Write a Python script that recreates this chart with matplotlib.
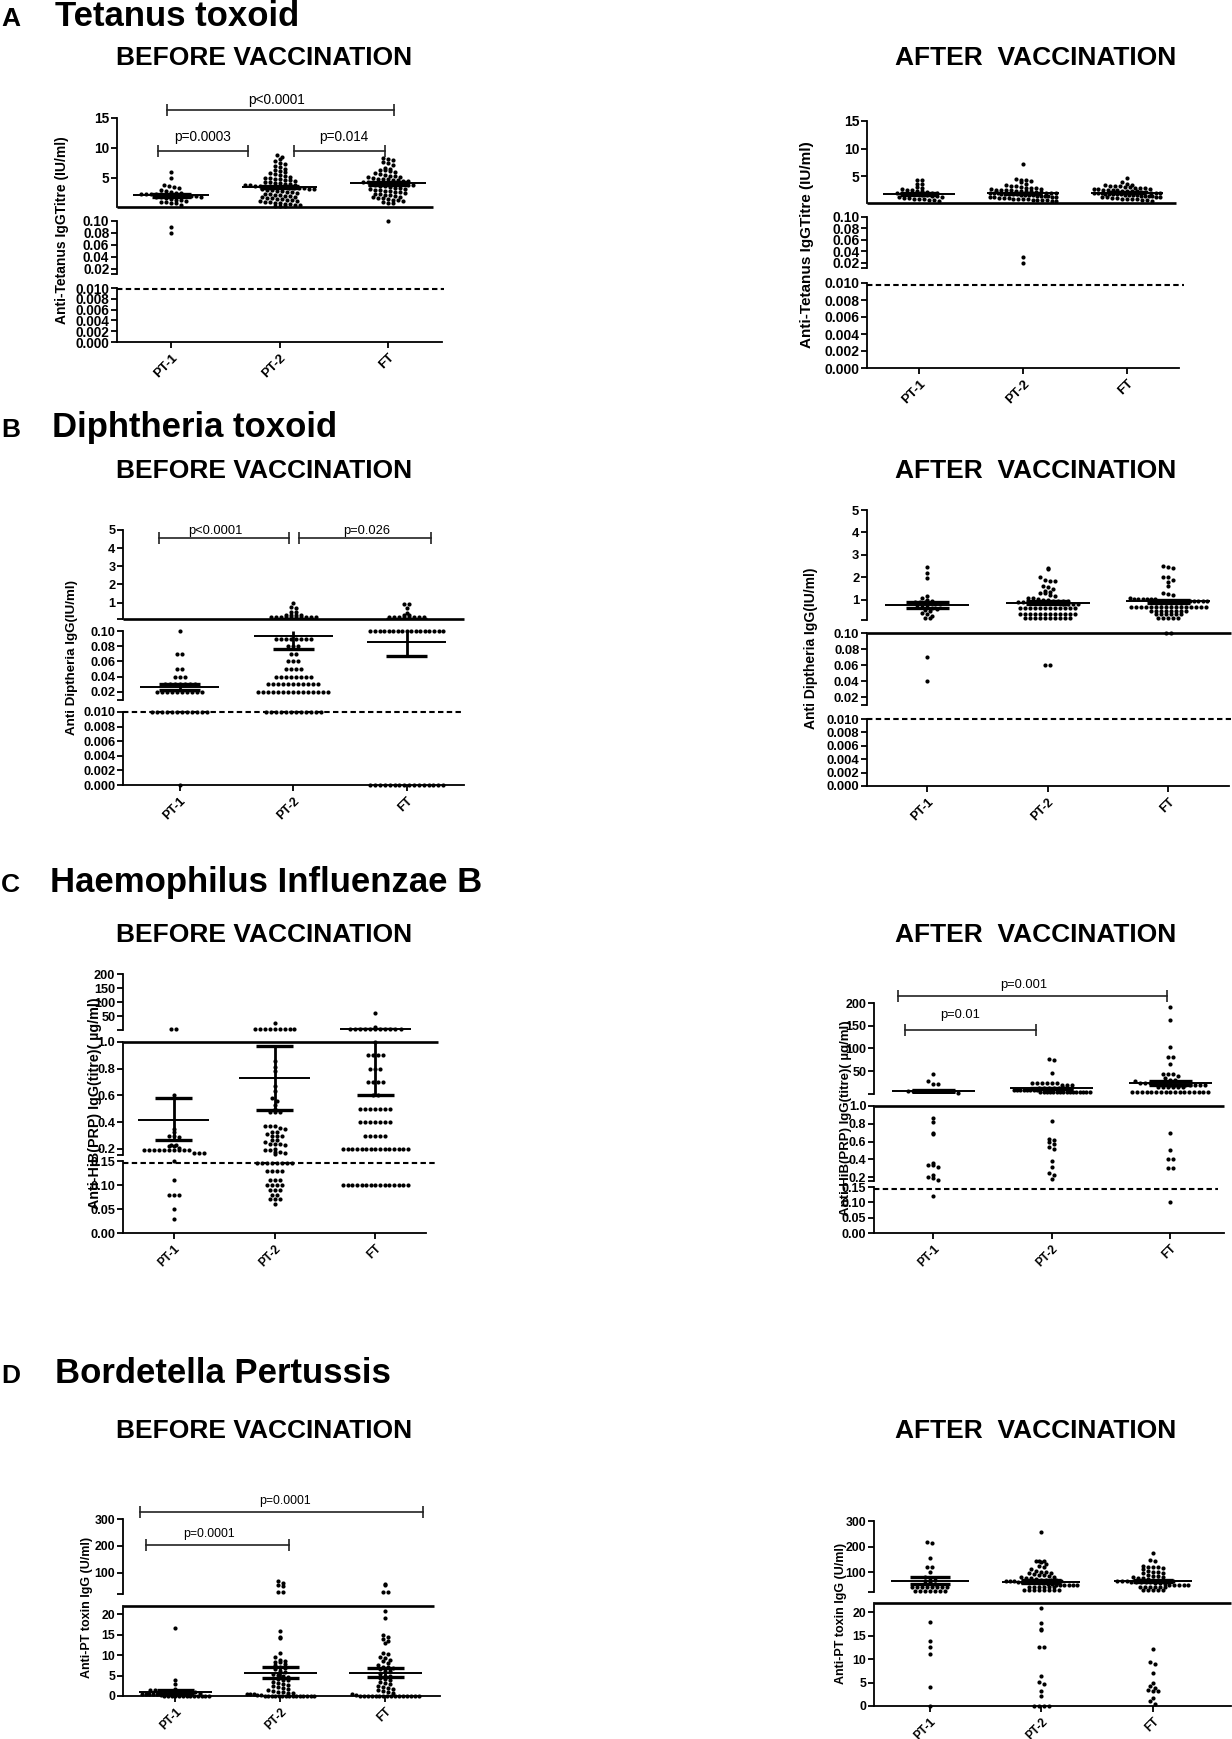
import numpy as np
import matplotlib
matplotlib.use('Agg')
import matplotlib.pyplot as plt

plt.rcParams['font.family'] = ['Liberation Sans', 'DejaVu Sans']

groups = ['PT-1', 'PT-2', 'FT']

# ---------------- A: Tetanus toxoid (IU/ml) ----------------
tet_pre_pt1 = [6.0, 5.0, 3.8, 3.6, 3.5, 3.4, 3.0, 2.8, 2.6, 2.5, 2.5, 2.4, 2.4, 2.3, 2.3, 2.3,
               2.2, 2.2, 2.2, 2.1, 2.1, 2.0, 2.0, 1.9, 1.8, 1.8, 1.6, 1.5, 1.4, 1.3, 1.2, 1.0,
               1.0, 0.9, 0.8, 0.5, 0.09, 0.08]
tet_pre_pt2 = [8.8, 8.5, 8.2, 7.8, 7.5, 7.3, 7.0, 6.8, 6.5, 6.3, 6.2, 6.0, 5.8, 5.6, 5.5, 5.4,
               5.2, 5.0, 5.0, 4.9, 4.8, 4.7, 4.6, 4.5, 4.4, 4.3, 4.2, 4.1, 4.0, 4.0, 3.9, 3.8,
               3.8, 3.7, 3.7, 3.6, 3.6, 3.5, 3.5, 3.5, 3.4, 3.4, 3.3, 3.3, 3.2, 3.2, 3.1, 3.0,
               3.0, 2.9, 2.8, 2.7, 2.6, 2.5, 2.4, 2.3, 2.2, 2.1, 2.0, 2.0, 1.9, 1.8, 1.7, 1.6,
               1.5, 1.5, 1.4, 1.3, 1.2, 1.1, 1.0, 1.0, 0.9, 0.8, 0.7, 0.6, 0.5, 0.5, 0.4, 0.3, 0.3]
tet_pre_ft = [8.3, 8.2, 8.0, 7.6, 7.5, 7.2, 6.6, 6.5, 6.4, 6.3, 6.2, 6.0, 5.8, 5.6, 5.5, 5.4,
              5.3, 5.2, 5.1, 5.0, 4.9, 4.8, 4.8, 4.7, 4.6, 4.5, 4.5, 4.4, 4.3, 4.3, 4.2, 4.2,
              4.1, 4.1, 4.0, 4.0, 3.9, 3.9, 3.8, 3.8, 3.7, 3.6, 3.5, 3.4, 3.3, 3.2, 3.1, 3.0,
              3.0, 2.9, 2.8, 2.7, 2.6, 2.5, 2.4, 2.3, 2.2, 2.1, 2.0, 1.9, 1.8, 1.7, 1.6, 1.5,
              1.4, 1.3, 1.2, 1.0, 0.9, 0.8, 0.10]
tet_pre_mean = [2.1, 3.5, 4.1]
tet_pre_lo = [1.9, 3.3, 3.9]
tet_pre_hi = [2.3, 3.7, 4.3]

tet_post_pt1 = [4.3, 4.2, 3.6, 3.5, 3.0, 2.8, 2.6, 2.5, 2.4, 2.3, 2.2, 2.1, 2.0, 2.0, 1.9, 1.9,
                1.8, 1.8, 1.7, 1.6, 1.5, 1.4, 1.3, 1.2, 1.1, 1.0, 1.0, 0.9, 0.8, 0.8, 0.7, 0.6, 0.5]
tet_post_pt2 = [7.2, 4.5, 4.3, 4.2, 4.1, 3.9, 3.6, 3.3, 3.2, 3.1, 3.0, 2.9, 2.8, 2.8, 2.7, 2.6,
                2.5, 2.5, 2.4, 2.4, 2.3, 2.3, 2.2, 2.2, 2.1, 2.1, 2.0, 2.0, 2.0, 1.9, 1.9, 1.9,
                1.8, 1.8, 1.8, 1.7, 1.7, 1.6, 1.6, 1.5, 1.5, 1.4, 1.4, 1.3, 1.3, 1.2, 1.2, 1.1,
                1.1, 1.0, 1.0, 1.0, 0.9, 0.9, 0.8, 0.8, 0.7, 0.7, 0.6, 0.6, 0.5, 0.5, 0.03, 0.02]
tet_post_ft = [4.6, 4.0, 3.6, 3.4, 3.3, 3.2, 3.1, 3.1, 3.0, 3.0, 2.9, 2.8, 2.8, 2.7, 2.6, 2.6,
               2.5, 2.5, 2.4, 2.4, 2.3, 2.3, 2.2, 2.2, 2.1, 2.1, 2.0, 2.0, 2.0, 1.9, 1.9, 1.9,
               1.8, 1.8, 1.8, 1.7, 1.7, 1.6, 1.6, 1.5, 1.5, 1.4, 1.4, 1.3, 1.3, 1.2, 1.2, 1.1,
               1.1, 1.0, 1.0, 0.9, 0.9, 0.8, 0.8, 0.7, 0.6, 0.5]
tet_post_mean = [1.8, 1.9, 2.0]
tet_post_lo = [1.6, 1.8, 1.9]
tet_post_hi = [2.0, 2.0, 2.1]

# ---------------- B: Diphtheria toxoid (IU/ml) ----------------
dip_pre_pt1 = [0.10, 0.07, 0.07, 0.05, 0.05, 0.04, 0.04, 0.04,
               0.03, 0.03, 0.03, 0.03, 0.03, 0.03, 0.03,
               0.02, 0.02, 0.02, 0.02, 0.02, 0.02, 0.02, 0.02, 0.02, 0.02,
               0.01, 0.01, 0.01, 0.01, 0.01, 0.01, 0.01, 0.01, 0.01, 0.01, 0.01, 0.01, 0.0]
dip_pre_pt2 = [1.0, 0.75, 0.7, 0.5, 0.5, 0.3, 0.3, 0.3, 0.3,
               0.2, 0.2, 0.2, 0.2, 0.2, 0.2, 0.2, 0.2, 0.2, 0.2,
               0.09, 0.09, 0.09, 0.09, 0.09, 0.09, 0.09, 0.09, 0.08, 0.08, 0.08, 0.07, 0.07,
               0.06, 0.06, 0.06, 0.05, 0.05, 0.05, 0.05,
               0.04, 0.04, 0.04, 0.04, 0.04, 0.04, 0.04, 0.04,
               0.03, 0.03, 0.03, 0.03, 0.03, 0.03, 0.03, 0.03, 0.03, 0.03, 0.03,
               0.02, 0.02, 0.02, 0.02, 0.02, 0.02, 0.02, 0.02, 0.02, 0.02, 0.02, 0.02, 0.02, 0.02, 0.02,
               0.01, 0.01, 0.01, 0.01, 0.01, 0.01, 0.01, 0.01, 0.01, 0.01, 0.01, 0.01]
dip_pre_ft = [0.9, 0.9, 0.7, 0.45, 0.3, 0.3, 0.2, 0.2, 0.2, 0.2, 0.2, 0.2, 0.2, 0.2,
              0.1, 0.1, 0.1, 0.1, 0.1, 0.1, 0.1, 0.1, 0.1, 0.1, 0.1, 0.1, 0.1, 0.1, 0.1, 0.1, 0.1,
              0.0, 0.0, 0.0, 0.0, 0.0, 0.0, 0.0, 0.0, 0.0, 0.0, 0.0, 0.0, 0.0, 0.0, 0.0, 0.0]
dip_pre_mean = [0.026, 0.094, 0.085]
dip_pre_lo = [0.022, 0.076, 0.067]
dip_pre_hi = [0.030, 0.112, 0.103]

dip_post_pt1 = [2.45, 2.2, 1.95, 1.15, 1.1, 1.0, 0.95, 0.9, 0.9, 0.9, 0.85, 0.8, 0.8, 0.75,
                0.7, 0.7, 0.65, 0.6, 0.55, 0.5, 0.4, 0.35, 0.3, 0.2, 0.2, 0.07, 0.04]
dip_post_pt2 = [2.4, 2.35, 2.0, 1.9, 1.85, 1.85, 1.6, 1.55, 1.5, 1.4, 1.35, 1.3, 1.3, 1.2, 1.15,
                1.1, 1.1, 1.05, 1.0, 1.0, 0.95, 0.95, 0.95, 0.95,
                0.88, 0.88, 0.88, 0.88, 0.88, 0.88, 0.88, 0.88, 0.88, 0.8, 0.8, 0.8, 0.8,
                0.62, 0.62, 0.62, 0.62, 0.62, 0.62, 0.62, 0.62, 0.62, 0.62, 0.62, 0.62,
                0.35, 0.35, 0.35, 0.35, 0.35, 0.35, 0.35, 0.35, 0.35, 0.35, 0.35, 0.35,
                0.2, 0.2, 0.2, 0.2, 0.2, 0.2, 0.2, 0.2, 0.2, 0.2, 0.06, 0.06]
dip_post_ft = [2.5, 2.45, 2.4, 2.0, 2.0, 1.9, 1.8, 1.6, 1.3, 1.25, 1.2, 1.1,
               1.05, 1.05, 1.05, 1.05, 1.05, 1.05,
               0.95, 0.95, 0.95, 0.95, 0.95, 0.95, 0.95, 0.95, 0.95, 0.95, 0.95, 0.95,
               0.85, 0.85, 0.85, 0.85, 0.85, 0.85,
               0.7, 0.7, 0.7, 0.7, 0.7, 0.7, 0.7, 0.7, 0.7, 0.7, 0.7, 0.7, 0.7, 0.7, 0.7, 0.7,
               0.48, 0.48, 0.48, 0.48, 0.48, 0.48, 0.48, 0.48,
               0.38, 0.38, 0.38, 0.38, 0.38, 0.38, 0.21, 0.21, 0.21, 0.21, 0.21, 0.1, 0.1]
dip_post_mean = [0.78, 0.87, 0.93]
dip_post_lo = [0.63, 0.80, 0.87]
dip_post_hi = [0.92, 0.94, 0.99]

# ---------------- C: Haemophilus influenzae B (ug/ml) ----------------
hib_pre_pt1 = [3.0, 3.0, 0.6, 0.35, 0.33, 0.3, 0.3, 0.29, 0.23, 0.23, 0.22, 0.22, 0.21,
               0.19, 0.19, 0.19, 0.19, 0.19, 0.19, 0.19, 0.19, 0.19, 0.19, 0.17, 0.17, 0.17,
               0.15, 0.11, 0.08, 0.08, 0.08, 0.05, 0.03]
hib_pre_pt2 = [25.0, 3.0, 3.0, 3.0, 3.0, 3.0, 3.0, 3.0, 3.0, 3.0,
               0.86, 0.81, 0.78, 0.67, 0.63, 0.58, 0.56, 0.53, 0.5, 0.48, 0.48, 0.48,
               0.37, 0.37, 0.37, 0.36, 0.35, 0.33, 0.33, 0.31, 0.3, 0.3, 0.3, 0.27, 0.27,
               0.25, 0.24, 0.24, 0.24, 0.23, 0.2, 0.19, 0.19, 0.18, 0.18, 0.17, 0.16,
               0.145, 0.145, 0.145, 0.145, 0.145, 0.145, 0.145, 0.145,
               0.13, 0.13, 0.13, 0.13, 0.11, 0.11, 0.11, 0.1, 0.1, 0.1, 0.1,
               0.09, 0.09, 0.09, 0.08, 0.08, 0.07, 0.07, 0.07, 0.06]
hib_pre_ft = [62.0, 12.0, 3.0, 3.0, 3.0, 3.0, 3.0, 3.0, 3.0, 3.0, 3.0, 3.0, 3.0,
              1.0, 0.9, 0.9, 0.9, 0.9, 0.8, 0.8, 0.8, 0.7, 0.7, 0.7, 0.7, 0.6, 0.6,
              0.5, 0.5, 0.5, 0.5, 0.5, 0.5, 0.5, 0.4, 0.4, 0.4, 0.4, 0.4, 0.4, 0.4,
              0.3, 0.3, 0.3, 0.3, 0.3,
              0.2, 0.2, 0.2, 0.2, 0.2, 0.2, 0.2, 0.2, 0.2, 0.2, 0.2, 0.2, 0.2, 0.2, 0.2,
              0.1, 0.1, 0.1, 0.1, 0.1, 0.1, 0.1, 0.1, 0.1, 0.1, 0.1, 0.1, 0.1, 0.1, 0.1]
hib_pre_mean = [0.42, 0.73, 3.0]
hib_pre_lo = [0.27, 0.49, 0.60]
hib_pre_hi = [0.58, 0.97, 5.4]

hib_post_pt1 = [44.0, 28.0, 22.0, 22.0, 7.0, 7.0, 7.0, 7.0, 7.0, 7.0, 7.0, 7.0, 7.0, 7.0, 3.0,
                0.86, 0.82, 0.70, 0.69, 0.36, 0.33, 0.33, 0.31, 0.22, 0.20, 0.19, 0.17, 0.12]
hib_post_pt2 = [76.0, 74.0, 45.0, 24.0, 24.0, 24.0, 24.0, 24.0, 24.0, 20.0, 20.0, 20.0,
                13.0, 13.0, 13.0, 13.0, 13.0, 13.0, 8.0, 8.0, 8.0, 8.0, 8.0, 8.0, 8.0, 8.0,
                5.0, 5.0, 5.0, 5.0, 5.0, 5.0, 5.0, 5.0, 5.0, 5.0, 5.0, 5.0, 5.0, 5.0, 5.0, 5.0,
                0.83, 0.63, 0.62, 0.60, 0.57, 0.54, 0.52, 0.38, 0.31, 0.24, 0.22, 0.18]
hib_post_ft = [192.0, 162.0, 104.0, 82.0, 82.0, 66.0, 43.0, 43.0, 43.0, 40.0, 35.0, 30.0, 30.0,
               28.0, 25.0, 25.0, 25.0, 25.0, 25.0, 25.0, 20.0, 20.0, 20.0, 20.0, 20.0, 20.0,
               20.0, 20.0, 15.0, 15.0, 15.0, 15.0, 15.0, 15.0,
               5.0, 5.0, 5.0, 5.0, 5.0, 5.0, 5.0, 5.0, 5.0, 5.0, 5.0, 5.0, 5.0, 5.0, 5.0, 5.0, 5.0,
               0.7, 0.5, 0.4, 0.4, 0.3, 0.3, 0.1]
hib_post_mean = [7.0, 12.0, 24.0]
hib_post_lo = [5.0, 10.0, 19.0]
hib_post_hi = [9.0, 14.0, 29.0]

# ---------------- D: Bordetella pertussis (U/ml) ----------------
pert_pre_pt1 = [16.7, 3.9, 2.9, 1.8, 1.5, 1.5, 1.3, 1.2, 1.0, 1.0, 1.0, 1.0, 1.0, 1.0,
                0.8, 0.6, 0.5, 0.5, 0.5, 0.5, 0.3,
                0, 0, 0, 0, 0, 0, 0, 0, 0, 0, 0, 0, 0]
pert_pre_pt2 = [70, 62, 55, 52, 30, 28, 15.8, 14.5, 14.2, 10.5, 9.5, 8.8, 8.6, 8.3, 8.2, 7.8,
                7.5, 7.2, 6.8, 6.5, 6.2, 5.8, 5.5, 5.2, 5.0, 4.7, 4.5, 4.2, 4.0, 3.8, 3.5, 3.2,
                3.0, 2.8, 2.5, 2.2, 2.0, 1.8, 1.5, 1.2, 1.0, 1.0, 0.8, 0.8, 0.6, 0.5, 0.5, 0.3,
                0.2, 0, 0, 0, 0, 0, 0, 0, 0, 0, 0, 0, 0, 0, 0, 0]
pert_pre_ft = [60, 55, 30, 28, 20.8, 19.0, 15.0, 14.5, 14.0, 13.5, 13.0, 10.5, 10.2, 9.5, 9.2,
               8.8, 8.5, 8.0, 7.5, 7.2, 7.0, 6.8, 6.5, 6.2, 6.0, 5.5, 5.0, 4.8, 4.5, 4.2, 4.0,
               3.5, 3.2, 3.0, 2.5, 2.2, 2.0, 1.8, 1.5, 1.2, 1.0, 0.8, 0.5, 0.3,
               0, 0, 0, 0, 0, 0, 0, 0, 0, 0, 0, 0, 0, 0, 0, 0]
pert_pre_mean = [1.0, 5.7, 5.7]
pert_pre_lo = [0.6, 4.4, 4.6]
pert_pre_hi = [1.4, 7.0, 6.8]

pert_post_pt1 = [219, 215, 157, 121, 119, 101, 80, 75, 70, 65, 60, 55,
                 40, 40, 40, 40, 40, 40, 40, 40, 25, 25, 25, 25, 25, 25, 25,
                 17.9, 13.9, 12.5, 11.2, 4.1, 0]
pert_post_pt2 = [255, 145, 145, 142, 138, 130, 125, 118, 112, 105, 100, 100, 98, 95, 92, 90,
                 88, 85, 82, 80, 78, 75, 72, 70, 70, 68, 68, 66, 65, 65, 64, 63, 62, 61, 60,
                 60, 58, 56, 55, 52, 50, 50, 50, 50, 50, 50, 40, 40, 40, 40, 40, 40,
                 28, 28, 28, 28, 28, 28, 28, 28,
                 21, 17.7, 16.5, 16.3, 12.7, 12.5, 6.5, 5.2, 4.7, 3.3, 2.1, 0, 0, 0, 0]
pert_post_ft = [175, 148, 145, 122, 120, 120, 118, 115, 112, 105, 100, 100, 98, 95, 90, 85,
                85, 82, 80, 78, 75, 72, 70, 70, 68, 67, 66, 65, 65, 64, 63, 62, 61, 60, 60,
                58, 56, 55, 50, 50, 50, 50, 50, 40, 40, 40, 40, 40, 40, 28, 28, 28, 28, 28,
                12.2, 9.3, 9.0, 7.0, 5.0, 4.3, 3.8, 3.5, 3.3, 3.2, 1.7, 1.0, 0.5]
pert_post_mean = [65, 63, 65]
pert_post_lo = [52, 58, 60]
pert_post_hi = [79, 68, 70]

# p-value brackets: (x start, x end, y, text, text x, text offset in px)
tet_pre_brackets = [(-0.04, 2.06, 16.33, 'p<0.0001', 0.97, 10),
                    (-0.12, 0.71, 9.5, 'p=0.0003', 0.29, 14),
                    (1.13, 1.97, 9.5, 'p=0.014', 1.59, 14)]
dip_pre_brackets = [(-0.18, 0.96, 4.56, 'p<0.0001', 0.31, 7),
                    (1.05, 2.21, 4.56, 'p=0.026', 1.65, 7)]
hib_post_brackets = [(-0.30, 1.97, 215.4, 'p=0.001', 0.76, 11),
                     (-0.24, 0.87, 140.6, 'p=0.01', 0.23, 15)]
pert_pre_brackets = [(-0.34, 2.36, 326, 'p=0.0001', 1.04, 11),
                     (-0.28, 1.08, 203.7, 'p=0.0001', 0.32, 11)]

W, H = 1232, 1739
fig = plt.figure(figsize=(W / 100, H / 100), dpi=100)


def px_axes(left, right, top, bottom):
    return fig.add_axes([left / W, 1 - bottom / H, (right - left) / W, (bottom - top) / H])


def swarm(ax, xc, vals, dx, max_half=0.32, row_px=4.0):
    vals = np.asarray(vals, float)
    if len(vals) == 0:
        return
    py = ax.transData.transform(np.column_stack([np.full(len(vals), float(xc)), vals]))[:, 1]
    rows = np.round(py / row_px)
    xs = np.full(len(vals), float(xc))
    for r in np.unique(rows):
        idx = np.where(rows == r)[0]
        n = len(idx)
        step = dx
        if n > 1 and (n - 1) / 2 * step > max_half:
            step = max_half / ((n - 1) / 2)
        xs[idx] = xc + (np.arange(n) - (n - 1) / 2) * step
    ax.scatter(xs, vals, s=9, color='black', linewidths=0, clip_on=False, zorder=3)


def home_segment(segs, v):
    # segments are listed top to bottom; pick the lowest one that can hold v
    for kk in range(len(segs) - 1, -1, -1):
        if v <= segs[kk]['lim'][1] + 1e-12:
            return kk
    return 0


def draw_panel(p):
    left, right = p['x_px']
    x_lo, x_hi = -0.5, p['x_hi']
    spacing = (right - left) / (x_hi - x_lo)
    dx = 5.0 / spacing
    segs = p['segs']
    axes = []
    for k, s in enumerate(segs):
        ax = px_axes(left, right, s['px'][0], s['px'][1])
        ax.set_xlim(x_lo, x_hi)
        ax.set_ylim(*s['lim'])
        ax.patch.set_alpha(0)
        for side in ['top', 'right', 'bottom']:
            ax.spines[side].set_visible(False)
        ax.spines['left'].set_linewidth(1.3)
        ticks, labels = list(s['ticks']), list(s['labels'])
        if s.get('brk'):
            ticks = [s['lim'][0]] + ticks
            labels = [''] + labels
        ax.set_yticks(ticks)
        ax.set_yticklabels(labels, fontsize=p['tick_fs'], fontweight='bold')
        ax.tick_params(axis='y', length=4, width=1.3, pad=1.5)
        if k == len(segs) - 1:
            ax.spines['bottom'].set_visible(True)
            ax.spines['bottom'].set_linewidth(1.3)
            ax.set_xticks(range(len(groups)))
            ax.set_xticklabels(groups, rotation=45, ha='right', rotation_mode='anchor',
                               fontsize=p['xt_fs'], fontweight='bold')
            ax.tick_params(axis='x', length=4, width=1.3, pad=3)
        else:
            ax.set_xticks([])
        axes.append(ax)

    # split each group's values across the broken-axis segments
    for i, vals in enumerate(p['data']):
        for k in range(len(segs)):
            seg_vals = [v for v in vals if home_segment(segs, v) == k]
            swarm(axes[k], i, seg_vals, dx)

    # mean and SEM, each piece drawn only in the segment that holds it
    mw, cw = 0.35, 0.18
    for i in range(len(groups)):
        m, lo, hi = p['mean'][i], p['lo'][i], p['hi'][i]
        axes[home_segment(segs, m)].plot([i - mw, i + mw], [m, m], color='black', lw=1.4,
                                         zorder=4, solid_capstyle='butt')
        for v in (lo, hi):
            axes[home_segment(segs, v)].plot([i - cw, i + cw], [v, v], color='black', lw=2.4,
                                             zorder=4, solid_capstyle='butt')
        for k, s in enumerate(segs):
            a, b = max(lo, s['lim'][0]), min(hi, s['lim'][1])
            if b > a:
                axes[k].plot([i, i], [a, b], color='black', lw=2.0, zorder=4,
                             solid_capstyle='butt')

    # thick separator line
    k, side = p['thick']
    yv = segs[k]['lim'][1] if side == 'top' else segs[k]['lim'][0]
    axes[k].plot([x_lo, p['thick_end']], [yv, yv], color='black', lw=1.9, clip_on=False,
                 zorder=5, solid_capstyle='butt')

    # protective level (dashed)
    if p.get('dash'):
        k, yv = p['dash']
        axes[k].plot([x_lo, p['dash_end']], [yv, yv], color='black', lw=1.5,
                     ls=(0, (2.6, 1.6)), clip_on=False, zorder=5)

    # p-value brackets
    for x0, x1, yb, txt, tx, off in p.get('brackets', []):
        axes[0].plot([x0, x1], [yb, yb], color='#222222', lw=1.2, marker='|', ms=8,
                     mew=1.2, clip_on=False, zorder=5)
        axes[0].annotate(txt, (tx, yb), xytext=(0, off * 0.72), textcoords='offset points',
                         ha='center', va='center', fontsize=p['p_fs'], annotation_clip=False)

    # y label centred on the whole stack
    xl, text, fs = p['ylabel']
    yc = (segs[0]['px'][0] + segs[-1]['px'][1]) / 2
    fig.text(xl / W, 1 - yc / H, text, rotation=90, ha='center', va='center',
             fontsize=fs, fontweight='bold')


tet_ticks_low = [0, 0.002, 0.004, 0.006, 0.008, 0.010]
tet_labels_low = ['0.000', '0.002', '0.004', '0.006', '0.008', '0.010']
tet_ticks_mid = [0.02, 0.04, 0.06, 0.08, 0.10]
tet_labels_mid = ['0.02', '0.04', '0.06', '0.08', '0.10']

panels = [
    dict(x_px=(117, 442), x_hi=2.5,
         segs=[dict(lim=(0.1, 15), px=(118, 207.4), ticks=[5, 10, 15], labels=['5', '10', '15']),
               dict(lim=(0.0115, 0.10), px=(221, 274), ticks=tet_ticks_mid, labels=tet_labels_mid, brk=True),
               dict(lim=(0, 0.010), px=(288, 342), ticks=tet_ticks_low, labels=tet_labels_low)],
         thick=(0, 'bottom'), thick_end=2.42, dash=(2, 0.0098), dash_end=2.52,
         data=[tet_pre_pt1, tet_pre_pt2, tet_pre_ft],
         mean=tet_pre_mean, lo=tet_pre_lo, hi=tet_pre_hi, brackets=tet_pre_brackets,
         ylabel=(62, 'Anti-Tetanus IgGTitre (IU/ml)', 10), tick_fs=9.8, xt_fs=9.5, p_fs=9.8),
    dict(x_px=(867, 1179), x_hi=2.5,
         segs=[dict(lim=(0.1, 15), px=(121, 203), ticks=[5, 10, 15], labels=['5', '10', '15']),
               dict(lim=(0.0113, 0.10), px=(217, 268), ticks=tet_ticks_mid, labels=tet_labels_mid, brk=True),
               dict(lim=(0, 0.010), px=(283, 368), ticks=tet_ticks_low, labels=tet_labels_low)],
         thick=(0, 'bottom'), thick_end=2.47, dash=(2, 0.0098), dash_end=2.55,
         data=[tet_post_pt1, tet_post_pt2, tet_post_ft],
         mean=tet_post_mean, lo=tet_post_lo, hi=tet_post_hi,
         ylabel=(807, 'Anti-Tetanus IgGTitre (IU/ml)', 11), tick_fs=10, xt_fs=9.5, p_fs=9.5),
    dict(x_px=(123, 463.5), x_hi=2.5,
         segs=[dict(lim=(0.1, 5), px=(530, 619), ticks=[1, 2, 3, 4, 5], labels=['1', '2', '3', '4', '5'], brk=True),
               dict(lim=(0.0095, 0.10), px=(631, 700), ticks=tet_ticks_mid, labels=tet_labels_mid, brk=True),
               dict(lim=(0, 0.010), px=(712, 785), ticks=tet_ticks_low, labels=tet_labels_low)],
         thick=(0, 'bottom'), thick_end=2.5, dash=(2, 0.010), dash_end=2.5,
         data=[dip_pre_pt1, dip_pre_pt2, dip_pre_ft],
         mean=dip_pre_mean, lo=dip_pre_lo, hi=dip_pre_hi, brackets=dip_pre_brackets,
         ylabel=(72, 'Anti Diptheria IgG(IU/ml)', 9.6), tick_fs=9.2, xt_fs=9, p_fs=9.3),
    dict(x_px=(867, 1228.5), x_hi=2.5,
         segs=[dict(lim=(0.1, 5), px=(510, 620), ticks=[1, 2, 3, 4, 5], labels=['1', '2', '3', '4', '5'], brk=True),
               dict(lim=(0.01, 0.10), px=(633, 705), ticks=tet_ticks_mid, labels=tet_labels_mid, brk=True),
               dict(lim=(0, 0.010), px=(719, 786), ticks=tet_ticks_low, labels=tet_labels_low)],
         thick=(1, 'top'), thick_end=2.52, dash=(2, 0.010), dash_end=2.52,
         data=[dip_post_pt1, dip_post_pt2, dip_post_ft],
         mean=dip_post_mean, lo=dip_post_lo, hi=dip_post_hi,
         ylabel=(811, 'Anti Diptheria IgG(IU/ml)', 10), tick_fs=9.4, xt_fs=9, p_fs=9),
    dict(x_px=(123, 426), x_hi=2.5,
         segs=[dict(lim=(1, 200), px=(974, 1030), ticks=[50, 100, 150, 200], labels=['50', '100', '150', '200'], brk=True),
               dict(lim=(0.155, 1.0), px=(1042, 1155), ticks=[0.2, 0.4, 0.6, 0.8, 1.0],
                    labels=['0.2', '0.4', '0.6', '0.8', '1.0'], brk=True),
               dict(lim=(0, 0.15), px=(1161, 1233), ticks=[0, 0.05, 0.10, 0.15],
                    labels=['0.00', '0.05', '0.10', '0.15'])],
         thick=(1, 'top'), thick_end=2.62, dash=(2, 0.145), dash_end=2.61,
         data=[hib_pre_pt1, hib_pre_pt2, hib_pre_ft],
         mean=hib_pre_mean, lo=hib_pre_lo, hi=hib_pre_hi,
         ylabel=(95, 'Anti-HiB(PRP) IgG(titre)( \u00b5g/ml)', 10.3), tick_fs=9.2, xt_fs=8.6, p_fs=9),
    dict(x_px=(874, 1223.6), x_hi=2.45,
         segs=[dict(lim=(1, 200), px=(1003, 1093.5), ticks=[50, 100, 150, 200], labels=['50', '100', '150', '200'], brk=True),
               dict(lim=(0.155, 1.0), px=(1106, 1181), ticks=[0.2, 0.4, 0.6, 0.8, 1.0],
                    labels=['0.2', '0.4', '0.6', '0.8', '1.0'], brk=True),
               dict(lim=(0, 0.15), px=(1187, 1233), ticks=[0, 0.05, 0.10, 0.15],
                    labels=['0.00', '0.05', '0.10', '0.15'])],
         thick=(1, 'top'), thick_end=2.45, dash=(2, 0.145), dash_end=2.4,
         data=[hib_post_pt1, hib_post_pt2, hib_post_ft],
         mean=hib_post_mean, lo=hib_post_lo, hi=hib_post_hi, brackets=hib_post_brackets,
         ylabel=(846, 'Anti-HiB(PRP) IgG(titre)( \u00b5g/ml)', 9.5), tick_fs=9, xt_fs=8.6, p_fs=9.3),
    dict(x_px=(123, 440), x_hi=2.52,
         segs=[dict(lim=(22, 300), px=(1519, 1594), ticks=[100, 200, 300], labels=['100', '200', '300'], brk=True),
               dict(lim=(0, 22), px=(1606, 1696), ticks=[0, 5, 10, 15, 20], labels=['0', '5', '10', '15', '20'])],
         thick=(1, 'top'), thick_end=2.46,
         data=[pert_pre_pt1, pert_pre_pt2, pert_pre_ft],
         mean=pert_pre_mean, lo=pert_pre_lo, hi=pert_pre_hi, brackets=pert_pre_brackets,
         ylabel=(87, 'Anti-PT toxin IgG (U/ml)', 9), tick_fs=8.8, xt_fs=8.6, p_fs=8.8),
    dict(x_px=(874, 1230.8), x_hi=2.7,
         segs=[dict(lim=(22, 300), px=(1521, 1592), ticks=[100, 200, 300], labels=['100', '200', '300'], brk=True),
               dict(lim=(0, 22), px=(1603, 1706), ticks=[0, 5, 10, 15, 20], labels=['0', '5', '10', '15', '20'])],
         thick=(1, 'top'), thick_end=2.7,
         data=[pert_post_pt1, pert_post_pt2, pert_post_ft],
         mean=pert_post_mean, lo=pert_post_lo, hi=pert_post_hi,
         ylabel=(841, 'Anti-PT toxin IgG (U/ml)', 9), tick_fs=8.8, xt_fs=8.6, p_fs=8.8),
]

for p in panels:
    draw_panel(p)

# section headings: letter, title, title baseline, subtitle baseline, title x
sections = [('A', 'Tetanus toxoid', 26, 65, 55),
            ('B', 'Diphtheria toxoid', 437, 478, 52),
            ('C', 'Haemophilus Influenzae B', 892, 942, 50),
            ('D', 'Bordetella Pertussis', 1383, 1438, 55)]
for letter, title, yb, ys, xt in sections:
    fig.text(1 / W, 1 - yb / H, letter, fontsize=19, fontweight='bold', va='baseline', ha='left')
    fig.text(xt / W, 1 - yb / H, title, fontsize=25, fontweight='bold', va='baseline', ha='left')
    fig.text(264 / W, 1 - ys / H, 'BEFORE VACCINATION', fontsize=19, fontweight='bold',
             va='baseline', ha='center')
    fig.text(1036 / W, 1 - ys / H, 'AFTER  VACCINATION', fontsize=19, fontweight='bold',
             va='baseline', ha='center')

fig.savefig('out.png', dpi=100)
